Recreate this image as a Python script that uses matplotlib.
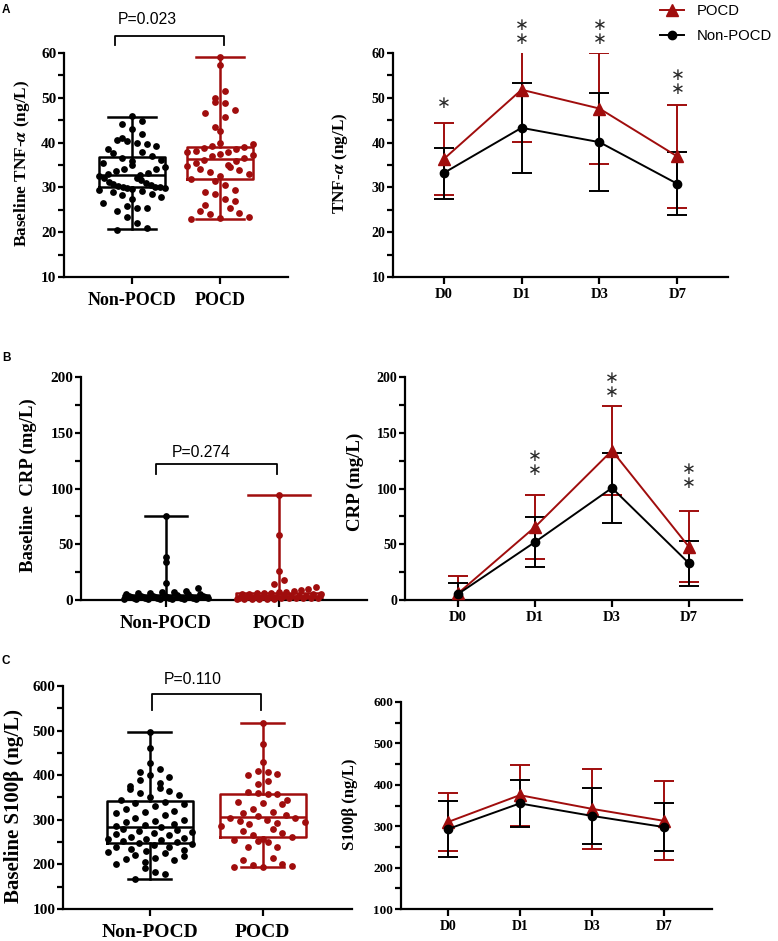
import matplotlib
matplotlib.use('Agg')
import matplotlib.pyplot as plt
import numpy as np
from matplotlib.ticker import MultipleLocator

W, H = 778, 941
RED = '#A00D0D'
BLACK = '#000000'
SANS = 'Liberation Sans'

groups = ['Non-POCD', 'POCD']
days = ['D0', 'D1', 'D3', 'D7']

# ---- baseline scatter values ----
tnf_non_pts = [46.0, 44.8, 44.2, 43.0, 42.0, 41.0, 40.6, 40.3, 40.0, 39.6, 39.2, 38.5,
               38.0, 37.6, 37.0, 36.6, 36.2, 35.8, 35.4, 35.0, 34.6, 34.2, 34.0, 33.6,
               33.3, 33.0, 32.8, 32.5, 32.2, 32.0, 31.6, 31.3, 31.0, 30.7, 30.5, 30.3,
               30.1, 30.0, 30.0, 29.9, 29.8, 29.6, 29.5, 29.3, 29.0, 28.6, 28.2, 27.8,
               27.3, 26.5, 25.8, 25.5, 25.3, 24.8, 23.5, 22.0, 21.0, 20.6]
tnf_pocd_pts = [59.1, 57.3, 51.5, 50.0, 49.0, 48.8, 47.2, 46.5, 45.8, 43.5, 42.5, 40.0,
                39.6, 39.3, 39.0, 38.8, 38.5, 38.2, 38.0, 37.8, 37.5, 37.2, 37.0, 36.6,
                36.2, 35.8, 35.5, 35.0, 34.8, 34.5, 34.0, 33.8, 33.5, 33.0, 32.5, 31.8,
                31.5, 30.5, 29.5, 29.0, 28.5, 27.5, 27.0, 26.0, 25.5, 24.8, 24.3, 24.0,
                23.5, 23.2, 23.0]
crp_non_pts = [75.5, 39.0, 34.0, 15.0, 11.0, 8.0, 7.0, 7.0, 6.0, 6.0, 5.0, 5.0, 5.0,
               4.5, 4.0, 4.0, 4.0, 3.5, 3.5, 3.0, 3.0, 3.0, 3.0, 2.5, 2.5, 2.5, 2.0,
               2.0, 2.0, 2.0, 1.5, 1.5, 1.5, 1.0, 1.0, 1.0, 1.0, 0.8, 0.5, 0.5]
crp_pocd_pts = [94.0, 58.0, 26.0, 18.0, 14.0, 12.0, 10.0, 9.0, 8.0, 7.0, 7.0, 6.0, 6.0,
                6.0, 5.0, 5.0, 5.0, 5.0, 4.0, 4.0, 4.0, 4.0, 3.0, 3.0, 3.0, 3.0, 3.0,
                2.0, 2.0, 2.0, 2.0, 2.0, 1.5, 1.5, 1.0, 1.0, 1.0, 1.0, 0.5, 0.5]
s100_non_pts = [497, 460, 427, 415, 408, 400, 395, 390, 383, 375, 372, 368, 365, 360,
                355, 350, 345, 340, 338, 335, 330, 325, 320, 318, 315, 310, 305, 300,
                298, 295, 290, 288, 285, 283, 280, 278, 275, 272, 270, 268, 265, 262,
                260, 258, 256, 255, 253, 250, 248, 245, 243, 240, 238, 235, 233, 230,
                228, 225, 222, 218, 215, 213, 210, 205, 200, 192, 182, 178, 168]
s100_pocd_pts = [517, 470, 430, 410, 408, 402, 400, 387, 380, 362, 360, 358, 357, 345,
                 340, 338, 335, 325, 318, 315, 310, 308, 305, 303, 300, 298, 295, 293,
                 290, 285, 280, 275, 270, 265, 262, 258, 255, 252, 250, 240, 238, 215,
                 210, 200, 198, 196, 195, 194]

# box stats: whisker low, Q1, median, Q3, whisker high
tnf_non_box = [20.7, 30.1, 32.8, 36.8, 45.7]
tnf_pocd_box = [23.0, 31.9, 36.3, 39.0, 59.1]
crp_non_box = [0.3, 1.5, 3.0, 4.5, 75.5]
crp_pocd_box = [0.3, 2.0, 3.5, 6.0, 94.2]
s100_non_box = [167, 248, 284, 342, 497]
s100_pocd_box = [194, 262, 306, 358, 517]

# ---- time course mean +/- SD ----
tnf_non_mean = [33.2, 43.3, 40.1, 30.8]
tnf_non_sd = [5.7, 10.0, 11.0, 7.0]
tnf_pocd_mean = [36.3, 51.8, 47.6, 36.9]
tnf_pocd_sd = [8.0, 11.6, 12.3, 11.5]
crp_non_mean = [5.4, 52.0, 100.5, 33.0]
crp_non_sd = [9.6, 22.5, 31.0, 20.0]
crp_pocd_mean = [6.0, 65.5, 134.0, 47.7]
crp_pocd_sd = [15.5, 29.0, 40.0, 32.0]
s100_non_mean = [293, 355, 325, 298]
s100_non_sd = [67, 57, 67, 58]
s100_pocd_mean = [310, 375, 342, 313]
s100_pocd_sd = [70, 74, 96, 95]

tnf_stars = [1, 2, 2, 2]
tnf_star_y = [48.8, 64.7, 64.7, 53.5]
crp_stars = [0, 2, 2, 2]
crp_star_y = [0, 123, 193, 111]

plt.rcParams['font.family'] = ['Liberation Serif', 'DejaVu Sans']
plt.rcParams['font.weight'] = 'bold'
plt.rcParams['axes.linewidth'] = 1.6
plt.rcParams['mathtext.fontset'] = 'stix'

fig = plt.figure(figsize=(W / 100, H / 100), dpi=100)


def rect(l, t, r, b):
    return [l / W, 1 - b / H, (r - l) / W, (b - t) / H]


def style_axes(ax, ylim, major, ylab_size, xlab_size, xpad):
    ax.spines['top'].set_visible(False)
    ax.spines['right'].set_visible(False)
    ax.set_ylim(*ylim)
    ax.yaxis.set_major_locator(MultipleLocator(major))
    ax.yaxis.set_minor_locator(MultipleLocator(major / 2))
    ax.tick_params(axis='y', which='major', length=4, width=1.6, labelsize=ylab_size, pad=1.5)
    ax.tick_params(axis='y', which='minor', length=4, width=1.6)
    ax.tick_params(axis='x', length=5, width=1.6, labelsize=xlab_size, pad=xpad)


def row_scatter(ax, x0, vals, diam, maxw):
    # points sharing a row are spread side by side across the box (GraphPad style)
    pts = ax.transData.transform(np.column_stack([np.full(len(vals), float(x0)), vals]))
    xc, ys = pts[0, 0], pts[:, 1]
    rows = np.floor((ys - ys.min()) / (diam * 2.0)).astype(int)
    offs = np.zeros(len(vals))
    for r in np.unique(rows):
        idx = np.where(rows == r)[0]
        n = len(idx)
        if n == 1:
            continue
        step = min(diam * 1.5, maxw / (n - 1))
        slots = (np.arange(n) - (n - 1) / 2) * step
        p = 3 if n % 3 else (5 if n % 5 else 7)
        perm = (np.arange(n) * p) % n
        offs[idx[np.argsort(ys[idx])]] = slots[perm]
    back = ax.transData.inverted().transform(np.column_stack([xc + offs, ys]))
    return back[:, 0]


def box_panel(ax, xlim, non_pts, pocd_pts, non_box, pocd_box, capw):
    ax.set_xlim(*xlim)
    px_unit = ax.transData.transform([[1, 0]])[0, 0] - ax.transData.transform([[0, 0]])[0, 0]
    for pos, st, pts, col, cw in [(0, non_box, non_pts, BLACK, capw[0]),
                                  (1, pocd_box, pocd_pts, RED, capw[1])]:
        stats = [dict(whislo=st[0], q1=st[1], med=st[2], q3=st[3], whishi=st[4], fliers=[])]
        lp = dict(color=col, linewidth=1.8)
        ax.bxp(stats, positions=[pos], widths=0.76, capwidths=cw, showfliers=False,
               boxprops=lp, whiskerprops=lp, capprops=lp, medianprops=lp, zorder=2)
        xs = row_scatter(ax, pos, pts, 6.5, 0.74 * px_unit)
        ax.scatter(xs, pts, s=24, color=col, zorder=3, clip_on=False, linewidths=0)
    ax.set_xticks([0, 1], groups)


def line_panel(ax, xlim, non_m, non_s, pocd_m, pocd_s):
    ax.set_xlim(*xlim)
    x = np.arange(len(days))
    h = []
    for m, s, col, mk, ms in [(pocd_m, pocd_s, RED, '^', 8), (non_m, non_s, BLACK, 'o', 6)]:
        ax.errorbar(x, m, yerr=s, fmt='none', ecolor=col, elinewidth=1.4, capsize=7,
                    capthick=1.4, zorder=3)
        ln, = ax.plot(x, m, color=col, marker=mk, ms=ms, lw=1.4, zorder=4)
        h.append(ln)
    ax.set_xticks(x, days)
    return h


def stars(ax, counts, ys):
    for i, (n, y) in enumerate(zip(counts, ys)):
        if n:
            ax.text(i, y, '\n'.join(['\u2217'] * n), ha='center', va='center', fontsize=12,
                    linespacing=0.72, family='DejaVu Sans', fontweight='normal',
                    color='#2a2a2a', clip_on=False)


def bracket(ax, x1, x2, ytop, ylow, tx, ty, label):
    ax.plot([x1, x1, x2, x2], [ylow, ytop, ytop, ylow], color=BLACK, lw=1.3, clip_on=False)
    ax.text(tx, ty, label, ha='center', va='baseline', fontsize=11.3, family=SANS,
            fontweight='normal')


# ---- A ----
axA1 = fig.add_axes(rect(64, 53, 288, 277))
style_axes(axA1, (10, 60), 10, 11, 13, 6)
box_panel(axA1, (-0.773, 1.773), tnf_non_pts, tnf_pocd_pts, tnf_non_box, tnf_pocd_box, (0.55, 0.55))
bracket(axA1, -0.19, 1.045, 63.8, 61.8, 0.17, 66.5, 'P=0.023')

axA2 = fig.add_axes(rect(393, 53, 728, 277))
style_axes(axA2, (10, 60), 10, 10, 10.5, 3)
handles = line_panel(axA2, (-0.65, 3.65), tnf_non_mean, tnf_non_sd, tnf_pocd_mean, tnf_pocd_sd)
stars(axA2, tnf_stars, tnf_star_y)

# ---- B ----
axB1 = fig.add_axes(rect(81, 377, 367, 600))
style_axes(axB1, (0, 200), 50, 11, 13.4, 6)
box_panel(axB1, (-0.75, 1.78), crp_non_pts, crp_pocd_pts, crp_non_box, crp_pocd_box, (0.37, 0.55))
bracket(axB1, -0.09, 0.98, 122, 113, 0.31, 128, 'P=0.274')

axB2 = fig.add_axes(rect(405, 377, 742, 600))
style_axes(axB2, (0, 200), 50, 10, 10.5, 3)
line_panel(axB2, (-0.69, 3.69), crp_non_mean, crp_non_sd, crp_pocd_mean, crp_pocd_sd)
stars(axB2, crp_stars, crp_star_y)

# ---- C ----
axC1 = fig.add_axes(rect(63, 686, 352, 909))
style_axes(axC1, (100, 600), 100, 11, 14, 6)
box_panel(axC1, (-0.77, 1.79), s100_non_pts, s100_pocd_pts, s100_non_box, s100_pocd_box, (0.38, 0.38))
bracket(axC1, 0.02, 0.98, 582, 546, 0.375, 604, 'P=0.110')

axC2 = fig.add_axes(rect(401, 702, 712, 909))
style_axes(axC2, (100, 600), 100, 9.5, 10, 3)
line_panel(axC2, (-0.65, 3.67), s100_non_mean, s100_non_sd, s100_pocd_mean, s100_pocd_sd)

# ---- y labels ----
for x, y, txt, fs in [(22, 163, 'Baseline TNF-$\\alpha$ (ng/L)', 12.4),
                      (340, 163, 'TNF-$\\alpha$ (ng/L)', 12.4),
                      (28, 485, 'Baseline  CRP (mg/L)', 13.5),
                      (355, 482, 'CRP (mg/L)', 13.7),
                      (14, 806, 'Baseline S100\u03b2 (ng/L)', 15),
                      (350, 804, 'S100\u03b2 (ng/L)', 12)]:
    fig.text(x / W, 1 - y / H, txt, rotation=90, ha='center', va='center', fontsize=fs)

# ---- panel letters ----
for y, letter in [(4, 'A'), (352, 'B'), (655, 'C')]:
    fig.text(2 / W, 1 - y / H, letter, ha='left', va='top', fontsize=8.5, family=SANS,
             fontweight='bold')

fig.legend(handles, ['POCD', 'Non-POCD'], loc='upper left', bbox_to_anchor=(660 / W, 1 - 4 / H),
           frameon=False, handlelength=1.6, handletextpad=0.9, labelspacing=0.75,
           prop=dict(family=SANS, size=10.7, weight='normal'), borderaxespad=0, borderpad=0)

fig.savefig('out.png', dpi=100)
